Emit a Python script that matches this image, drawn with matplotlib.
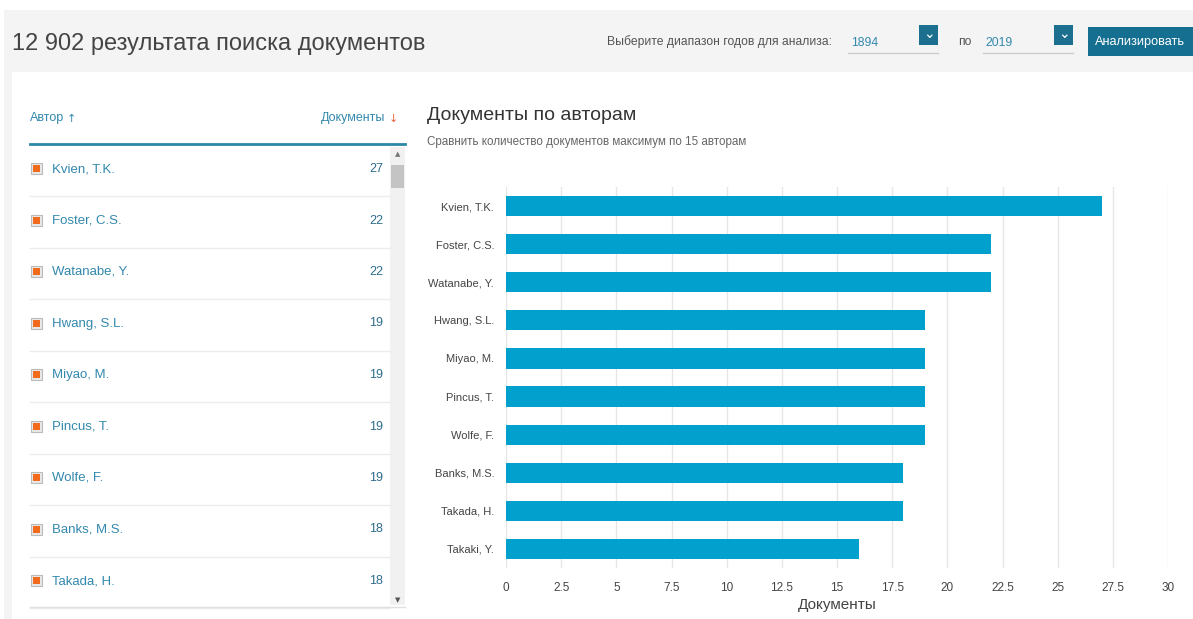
import matplotlib
matplotlib.use("Agg")
import matplotlib.pyplot as plt
from matplotlib.patches import Rectangle

plt.rcParams['font.family'] = ['Liberation Sans', 'DejaVu Sans']

# chart data
authors = ["Kvien, T.K.", "Foster, C.S.", "Watanabe, Y.", "Hwang, S.L.", "Miyao, M.",
           "Pincus, T.", "Wolfe, F.", "Banks, M.S.", "Takada, H.", "Takaki, Y."]
documents = [27, 22, 22, 19, 19, 19, 19, 18, 18, 16]
x_ticks = [0, 2.5, 5, 7.5, 10, 12.5, 15, 17.5, 20, 22.5, 25, 27.5, 30]
x_tick_labels = ["0", "2.5", "5", "7.5", "10", "12.5", "15", "17.5", "20", "22.5", "25", "27.5", "30"]

# table rows visible in the left panel
table_authors = authors[:9]
table_docs = documents[:9]

W, H = 1193, 619
BAR = '#02a0cd'
TEAL = '#3388ad'

fig = plt.figure(figsize=(W / 100, H / 100), dpi=100)
fig.patch.set_facecolor('white')

# background axes in pixel coordinates for the page elements
bg = fig.add_axes([0, 0, 1, 1])
bg.set_xlim(0, W)
bg.set_ylim(H, 0)
bg.axis('off')

bg.add_patch(Rectangle((4, 10), W - 4, H - 10, color='#f4f4f4', lw=0))
bg.add_patch(Rectangle((12, 72), W - 12, H - 72, color='white', lw=0))

# header
bg.text(12, 44, "12 902 результата поиска документов", fontsize=17, color='#444444', va='center')
bg.text(607, 42, "Выберите диапазон годов для анализа:", fontsize=8.7, color='#555555', va='center')
bg.text(851, 43, "1894", fontsize=8.7, color=TEAL, va='center')
bg.plot([848, 938], [53, 53], color='#cccccc', lw=1)
bg.add_patch(Rectangle((919, 25), 19, 20, color='#1d6f90', lw=0))
bg.text(928.5, 34, "⌄", fontsize=10, color='white', ha='center', va='center', family='DejaVu Sans')
bg.text(958, 42, "по", fontsize=8.7, color='#555555', va='center')
bg.text(985, 43, "2019", fontsize=8.7, color=TEAL, va='center')
bg.plot([983, 1073], [53, 53], color='#cccccc', lw=1)
bg.add_patch(Rectangle((1054, 25), 19, 20, color='#1d6f90', lw=0))
bg.text(1063.5, 34, "⌄", fontsize=10, color='white', ha='center', va='center', family='DejaVu Sans')
bg.add_patch(Rectangle((1088, 27), 105, 29, color='#156f91', lw=0))
bg.text(1140, 42, "Анализировать", fontsize=9.2, color='white', ha='center', va='center')

# left table
bg.text(30, 118, "Автор", fontsize=9, color=TEAL, va='center')
bg.text(67, 119, "↑", fontsize=8, color=TEAL, va='center', family='DejaVu Sans')
bg.text(385, 118, "Документы", fontsize=9, color=TEAL, va='center', ha='right')
bg.text(389, 119, "↓", fontsize=8, color='#e8643a', va='center', family='DejaVu Sans')
bg.plot([30, 405], [144, 144], color='#2d87a8', lw=2)

# scrollbar
bg.add_patch(Rectangle((390, 147), 15, 458, color='#f1f1f1', lw=0))
bg.add_patch(Rectangle((391, 165), 13, 23, color='#c4c4c4', lw=0))
bg.text(397.5, 154, "▲", fontsize=5, color='#777777', ha='center', va='center', family='DejaVu Sans')
bg.text(397.5, 600, "▼", fontsize=5, color='#555555', ha='center', va='center', family='DejaVu Sans')

row_h = 51.5
for i, (name, n) in enumerate(zip(table_authors, table_docs)):
    yc = 169 + i * row_h
    bg.add_patch(Rectangle((31, yc - 6), 11, 11, facecolor='#e8e8e8', edgecolor='#bbbbbb', lw=0.8))
    bg.add_patch(Rectangle((33, yc - 4), 7, 7, color='#f26b1d', lw=0))
    bg.text(52, yc, name, fontsize=9.5, color=TEAL, va='center')
    bg.text(383, yc, str(n), fontsize=9, color='#2e6d8d', va='center', ha='right')
    bg.plot([30, 390], [yc + 27, yc + 27], color='#ececec', lw=1)
bg.plot([30, 405], [607, 607], color='#e0e0e0', lw=1)

# chart title
bg.text(427, 116, "Документы по авторам", fontsize=14, color='#333333', va='center')
bg.text(427, 142, "Сравнить количество документов максимум по 15 авторам", fontsize=8.4,
        color='#666666', va='center')

# bar chart
ax = fig.add_axes([506 / W, 1 - 568 / H, 662 / W, 381 / H])
ax.set_facecolor('none')
ypos = list(range(len(authors)))
ax.barh(ypos, documents, height=0.53, color=BAR, zorder=3)
ax.set_ylim(len(authors) - 0.5, -0.5)
ax.set_xlim(0, 30)
ax.set_yticks(ypos)
ax.set_yticklabels(authors, fontsize=8, color='#444444')
ax.set_xticks(x_ticks)
ax.set_xticklabels(x_tick_labels, fontsize=8.5, color='#444444')
ax.tick_params(length=0, pad=10)
ax.tick_params(axis='y', pad=8.5)
ax.grid(axis='x', color='#e6e6e6', lw=1, zorder=0)
for s in ax.spines.values():
    s.set_visible(False)
ax.set_xlabel("Документы", fontsize=11, color='#444444', labelpad=3)

fig.savefig("out.png", dpi=100)
